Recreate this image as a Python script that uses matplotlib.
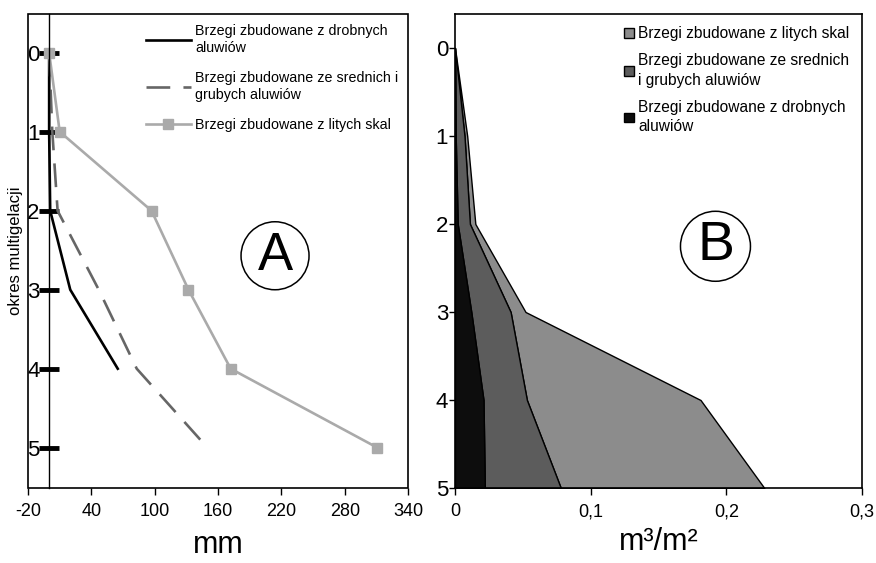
import matplotlib.pyplot as plt
from matplotlib.patches import Ellipse, Rectangle
from matplotlib.ticker import FuncFormatter
import numpy as np

plt.rcParams['font.family'] = ['Liberation Sans', 'DejaVu Sans']
plt.rcParams['axes.unicode_minus'] = False

# okresy multigelacji
okresy = [0, 1, 2, 3, 4, 5]

# panel A - cofanie brzegu [mm]
drobne_mm = [0, 0, 1, 20, 65]
srednie_mm = [0, 3, 8, 47, 83, 150]
lite_mm = [0, 10, 97, 132, 172, 311]

# panel B - objetosc [m3/m2], udzial kazdej grupy (w wykresie sumowane)
drobne_m3 = [0, 0.0005, 0.002, 0.012, 0.021, 0.022]
srednie_m3 = [0, 0.0065, 0.009, 0.029, 0.032, 0.056]
lite_m3 = [0, 0.002, 0.004, 0.011, 0.128, 0.150]

x_ticks_a = [-20, 40, 100, 160, 220, 280, 340]
x_ticks_b = [0, 0.1, 0.2, 0.3]

LAB_DROB = "Brzegi zbudowane z drobnych\naluwiów"
LAB_SRED_A = "Brzegi zbudowane ze srednich i\ngrubych aluwiów"
LAB_SRED_B = "Brzegi zbudowane ze srednich\ni grubych aluwiów"
LAB_LITE = "Brzegi zbudowane z litych skal"

fig = plt.figure(figsize=(8.76, 5.63), dpi=100)


def kolko(ax, cx, cy, r_px, litera, size):
    # okrag w pikselach (osie nie sa kwadratowe)
    bb = ax.get_window_extent()
    w = 2 * r_px / bb.width
    h = 2 * r_px / bb.height
    ax.add_patch(Ellipse((cx, cy), w, h, transform=ax.transAxes, fill=False,
                         lw=1.1, ec='black'))
    ax.text(cx, cy, litera, transform=ax.transAxes, fontsize=size,
            ha='center', va='center')


# ---------- panel A ----------
axA = fig.add_axes([0.032, 0.1332, 0.4338, 0.8419])
axA.plot(drobne_mm, okresy[:len(drobne_mm)], color='black', lw=1.9, label=LAB_DROB)
axA.plot(srednie_mm, okresy, color='#666666', lw=1.9, dashes=(9, 5), label=LAB_SRED_A)
axA.plot(lite_mm, okresy, color='#aaaaaa', lw=1.9, marker='s', ms=7.8,
         label=LAB_LITE)
axA.set_xlim(-20, 340)
axA.set_ylim(5.51, -0.49)
axA.set_xticks(x_ticks_a)
axA.tick_params(axis='x', direction='out', length=5, width=1, labelsize=13, pad=6)

# os pionowa na x=0 z grubymi kreskami
axA.spines['left'].set_position(('data', 0))
axA.spines['left'].set_linewidth(1)
axA.spines['top'].set_visible(False)
axA.spines['right'].set_visible(False)
axA.spines['bottom'].set_visible(False)
axA.add_patch(Rectangle((0, 0), 1, 1, transform=axA.transAxes, fill=False,
                        lw=1.2, ec='black', clip_on=False))
axA.set_yticks(okresy)
axA.tick_params(axis='y', direction='inout', length=14, width=3.5, labelsize=16, pad=0)
axA.set_xlabel("mm", fontsize=22, labelpad=7)
fig.text(0.018, 0.555, "okres multigelacji", rotation=90, fontsize=12,
         ha='center', va='center')

legA = axA.legend(loc='upper right', bbox_to_anchor=(1.0, 1.0), frameon=False,
                  fontsize=10.3, handlelength=3.1, handletextpad=0.3,
                  labelspacing=1.1, borderaxespad=0.3)
for t in legA.get_texts():
    t.set_linespacing(1.3)

kolko(axA, 0.65, 0.49, 34, "A", 38)

# ---------- panel B ----------
axB = fig.add_axes([0.5194, 0.1332, 0.4646, 0.8419])
c1 = np.array(drobne_m3)
c2 = c1 + np.array(srednie_m3)
c3 = c2 + np.array(lite_m3)
axB.fill_betweenx(okresy, c2, c3, facecolor='#8c8c8c', edgecolor='black', lw=1,
                  label=LAB_LITE)
axB.fill_betweenx(okresy, c1, c2, facecolor='#5c5c5c', edgecolor='black', lw=1,
                  label=LAB_SRED_B)
axB.fill_betweenx(okresy, 0, c1, facecolor='#0d0d0d', edgecolor='black', lw=1,
                  label=LAB_DROB)
axB.set_xlim(0, 0.3)
axB.set_ylim(5, -0.386)
axB.set_xticks(x_ticks_b)
axB.xaxis.set_major_formatter(
    FuncFormatter(lambda v, p: "0" if v == 0 else f"{v:.1f}".replace('.', ',')))
axB.set_yticks(okresy)
axB.tick_params(axis='x', direction='out', length=5, width=1, labelsize=13, pad=6)
axB.tick_params(axis='y', direction='out', length=4, width=1, labelsize=16, pad=1)
for s in axB.spines.values():
    s.set_linewidth(1.2)
axB.set_xlabel("m³/m²", fontsize=22, labelpad=5)

legB = axB.legend(loc='upper right', bbox_to_anchor=(1.0, 1.0), frameon=False,
                  fontsize=11.2, handlelength=0.6, handleheight=0.6,
                  handletextpad=0.3, labelspacing=0.75, borderaxespad=0.4)
for t in legB.get_texts():
    t.set_linespacing(1.4)

kolko(axB, 0.64, 0.51, 35, "B", 40)

fig.savefig("out.png", dpi=100)
